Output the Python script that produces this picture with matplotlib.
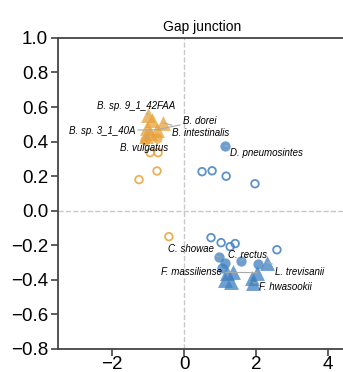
import matplotlib
matplotlib.use("Agg")
import matplotlib.pyplot as plt

plt.rcParams["font.family"] = ["Liberation Sans", "DejaVu Sans"]

# orange group
or_tri_x = [-1.0, -0.89, -0.58, -1.03, -0.75, -0.94, -1.05]
or_tri_y = [0.556, 0.527, 0.509, 0.48, 0.469, 0.451, 0.43]
or_dot_x = [-1.08, -0.75]
or_dot_y = [0.41, 0.42]
or_open_x = [-0.94, -0.72, -0.75, -1.25, -0.42]
or_open_y = [0.336, 0.336, 0.23, 0.18, -0.15]

# blue group
bl_dot_x = [1.14, 0.97, 1.14, 1.58, 2.06, 1.06]
bl_dot_y = [0.376, -0.266, -0.30, -0.29, -0.307, -0.33]
bl_tri_x = [1.19, 1.36, 1.14, 1.31, 1.89, 2.03, 2.31, 1.92]
bl_tri_y = [-0.359, -0.353, -0.40, -0.41, -0.388, -0.359, -0.30, -0.417]
bl_open_x = [0.5, 0.78, 1.17, 1.97, 0.75, 1.03, 1.28, 1.42, 2.58]
bl_open_y = [0.226, 0.231, 0.20, 0.156, -0.156, -0.185, -0.208, -0.19, -0.226]

# labels: text, text pos, alignment, point it refers to
labels = ["B. sp. 9_1_42FAA", "B. dorei", "B. sp. 3_1_40A", "B. intestinalis",
          "B. vulgatus", "D. pneumosintes", "C. showae", "C. rectus",
          "F. massiliense", "L. trevisanii", "F. hwasookii"]
lab_x = [-0.25, -0.03, -1.36, -0.33, -1.11, 1.28, 0.83, 1.22, 1.06, 2.53, 2.08]
lab_y = [0.608, 0.52, 0.463, 0.45, 0.365, 0.335, -0.22, -0.255, -0.353, -0.353, -0.44]
lab_ha = ["right", "left", "right", "left", "center", "left", "right", "left",
          "right", "left", "left"]
pt_x = [-1.0, -0.75, -0.75, -0.58, -1.05, 1.14, 0.97, 1.58, 2.03, 2.31, 1.92]
pt_y = [0.556, 0.469, 0.469, 0.509, 0.43, 0.376, -0.266, -0.29, -0.359, -0.30, -0.417]

orange = "#e8a23a"
blue = "#3f7fbf"

fig = plt.figure(figsize=(3.43, 3.72), dpi=100)
ax = fig.add_axes([0.169, 0.062, 0.84, 0.836])

ax.axvline(0, color="#c8c8c8", ls="--", lw=1, zorder=0)
ax.axhline(0, color="#c8c8c8", ls="--", lw=1, zorder=0)

ax.scatter(or_open_x, or_open_y, s=30, facecolors="none", edgecolors=orange, linewidths=1.3, alpha=0.85)
ax.scatter(bl_open_x, bl_open_y, s=30, facecolors="none", edgecolors=blue, linewidths=1.3, alpha=0.85)
ax.scatter(or_dot_x, or_dot_y, s=55, color=orange, alpha=0.75, lw=0)
ax.scatter(bl_dot_x, bl_dot_y, s=55, color=blue, alpha=0.75, lw=0)
ax.scatter(or_tri_x, or_tri_y, s=115, marker="^", color=orange, alpha=0.75, lw=0)
ax.scatter(bl_tri_x, bl_tri_y, s=115, marker="^", color=blue, alpha=0.75, lw=0)

for t, x, y, ha, px, py in zip(labels, lab_x, lab_y, lab_ha, pt_x, pt_y):
    ax.annotate(t, xy=(px, py), xytext=(x, y), ha=ha, va="center",
                fontsize=7, style="italic",
                arrowprops=dict(arrowstyle="-", color="#aaaaaa", lw=0.8,
                                shrinkA=0, shrinkB=0))

ax.set_xlim(-3.5, 4.5)
ax.set_ylim(-0.8, 1.0)
ax.set_xticks([-2, 0, 2, 4])
ax.set_yticks([-0.8, -0.6, -0.4, -0.2, 0.0, 0.2, 0.4, 0.6, 0.8, 1.0])
ax.tick_params(labelsize=13.5, length=5, width=1.2, color="#444444", pad=2)
ax.tick_params(axis="x", pad=0)
for s in ax.spines.values():
    s.set_color("#444444")
    s.set_linewidth(1.3)
ax.spines["right"].set_visible(False)
ax.set_title("Gap junction", fontsize=10, pad=5)

fig.savefig("out.png", dpi=100)
